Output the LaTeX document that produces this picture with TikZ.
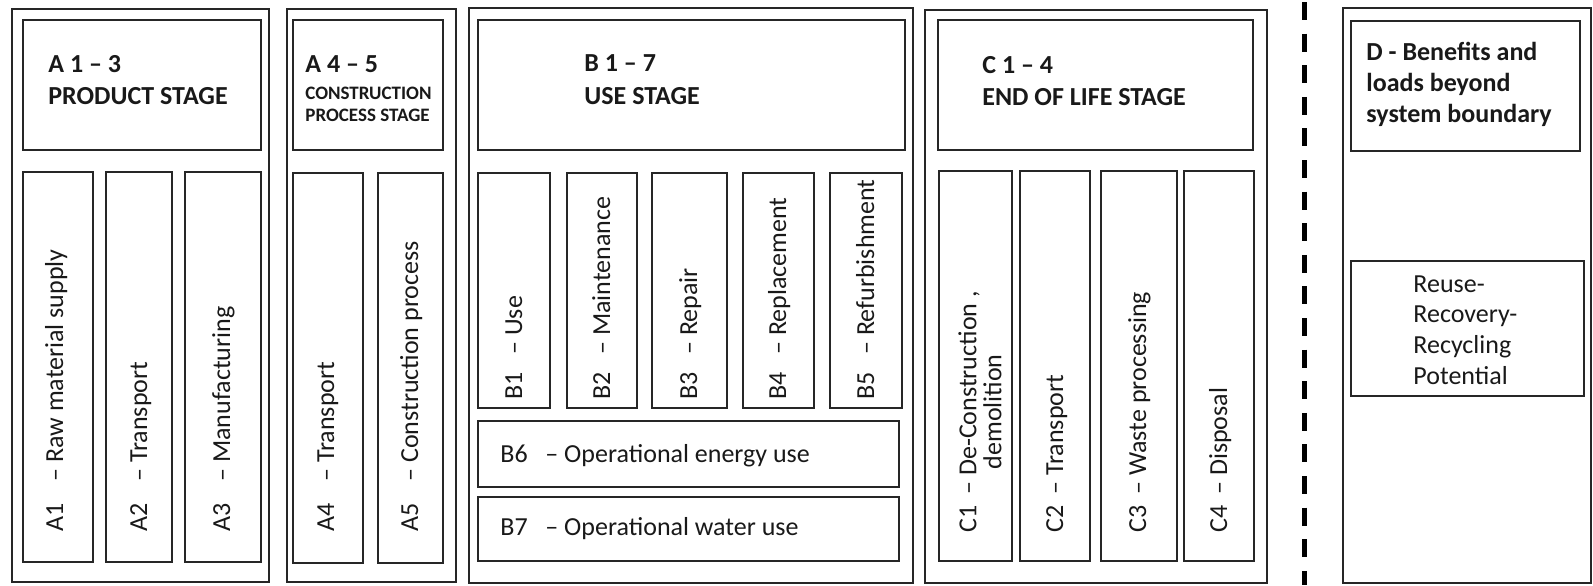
\documentclass[tikz,border=0pt]{standalone}
\usepackage{fontspec}
\setmainfont{Carlito}
\usetikzlibrary{positioning}

\tikzset{
  frame/.style={draw=black!85, line width=1.3pt},
  cell/.style={draw=black!85, line width=1pt},
  head/.style={font=\bfseries\fontsize{13}{15.5}\selectfont, text=black!90, anchor=base west, inner sep=0pt},
  small head/.style={font=\bfseries\fontsize{9.5}{11}\selectfont, text=black!90, anchor=base west, inner sep=0pt},
  vlabel/.style={font=\fontsize{13}{12.5}\selectfont, text=black!90, rotate=90, anchor=base west, inner sep=0pt},
  hlabel/.style={font=\fontsize{13}{15}\selectfont, text=black!90, anchor=base west, inner sep=0pt},
  boundary/.style={draw=black, line width=2.5pt, dash pattern=on 9pt off 6.8pt}
}
\newcommand{\modlabel}[3]{\makebox[#1][l]{#2}– #3}

\begin{document}
\begin{tikzpicture}[x=0.5pt,y=-0.5pt]
        \useasboundingbox (0,0) rectangle (1593,585);
        % stage frames
        \draw[frame] (12,9) rectangle (269,582);
        \draw[frame] (287,9) rectangle (456,582);
        \draw[frame] (469,8) rectangle (913,583);
        \draw[frame] (925,10) rectangle (1267,583);
        \draw[frame] (1343,8) rectangle (1591,583);
        % headers
        \draw[cell] (23,20) rectangle (261,150);
        \draw[cell] (293,20) rectangle (443,150);
        \draw[cell] (478,20) rectangle (905,150);
        \draw[cell] (938,20) rectangle (1253,150);
        \draw[cell] (1351,21) rectangle (1580,151);
        \node[head] (a13) at (48,72) {A 1 – 3};
        \node[head] (a13name) at (48,104) {PRODUCT STAGE};
        \node[head] (a45) at (305,72) {A 4 – 5};
        \node[small head] (a45name) at (305,99) {CONSTRUCTION};
        \node[small head] (a45name2) at (305,121) {PROCESS STAGE};
        \node[head] (b17) at (584,71) {B 1 – 7};
        \node[head] (b17name) at (584,104) {USE STAGE};
        \node[head] (c14) at (982,73) {C 1 – 4};
        \node[head] (c14name) at (982,105) {END OF LIFE STAGE};
        % base of a multi-line node is its last line
        \node[head, align=left] (dname) at (1366,122) {D - Benefits and\\loads beyond\\system boundary};
        % product and construction modules
        \draw[cell] (23,172) rectangle (93,562);
        \draw[cell] (106,172) rectangle (172,562);
        \draw[cell] (185,172) rectangle (261,562);
        \draw[cell] (293,173) rectangle (363,563);
        \draw[cell] (378,173) rectangle (443,563);
        \node[vlabel] (a1) at (63,532) {\modlabel{25pt}{A1}{Raw material supply}};
        \node[vlabel] (a2) at (147,532) {\modlabel{25pt}{A2}{Transport}};
        \node[vlabel] (a3) at (230,532) {\modlabel{25pt}{A3}{Manufacturing}};
        \node[vlabel] (a4) at (334,532) {\modlabel{25pt}{A4}{Transport}};
        \node[vlabel] (a5) at (418,532) {\modlabel{25pt}{A5}{Construction process}};
        % use modules
        \draw[cell] (478,173) rectangle (550,408);
        \draw[cell] (567,173) rectangle (637,408);
        \draw[cell] (652,173) rectangle (727,408);
        \draw[cell] (743,173) rectangle (814,408);
        \draw[cell] (830,173) rectangle (902,408);
        \draw[cell] (478,421) rectangle (899,487);
        \draw[cell] (478,497) rectangle (899,561);
        \node[vlabel] (b1) at (522,400) {\modlabel{22.5pt}{B1}{Use}};
        \node[vlabel] (b2) at (610,400) {\modlabel{22.5pt}{B2}{Maintenance}};
        \node[vlabel] (b3) at (697,400) {\modlabel{22.5pt}{B3}{Repair}};
        \node[vlabel] (b4) at (786,400) {\modlabel{22.5pt}{B4}{Replacement}};
        \node[vlabel] (b5) at (874,400) {\modlabel{22.5pt}{B5}{Refurbishment}};
        \node[hlabel] (b6) at (500,462) {\modlabel{22.5pt}{B6}{Operational energy use}};
        \node[hlabel] (b7) at (500,535) {\modlabel{22.5pt}{B7}{Operational water use}};
        % end of life modules
        \draw[cell] (939,171) rectangle (1012,561);
        \draw[cell] (1020,171) rectangle (1090,561);
        \draw[cell] (1101,171) rectangle (1177,561);
        \draw[cell] (1184,171) rectangle (1254,561);
        \node[vlabel, anchor=west, align=center] (c1) at (980,533) {\modlabel{19pt}{C1}{De-Construction ,}\\demolition};
        \node[vlabel] (c2) at (1063,533) {\modlabel{19pt}{C2}{Transport}};
        \node[vlabel] (c3) at (1146,533) {\modlabel{19pt}{C3}{Waste processing}};
        \node[vlabel] (c4) at (1227,533) {\modlabel{19pt}{C4}{Disposal}};
        % beyond the system boundary
        \draw[boundary] (1304,2) -- (1304,585);
        \draw[cell] (1351,261) rectangle (1584,396);
        \node[hlabel, align=left, font=\fontsize{13}{15.3}\selectfont] (dmod) at (1413,384) {Reuse-\\Recovery-\\Recycling\\Potential};
\end{tikzpicture}
\end{document}
